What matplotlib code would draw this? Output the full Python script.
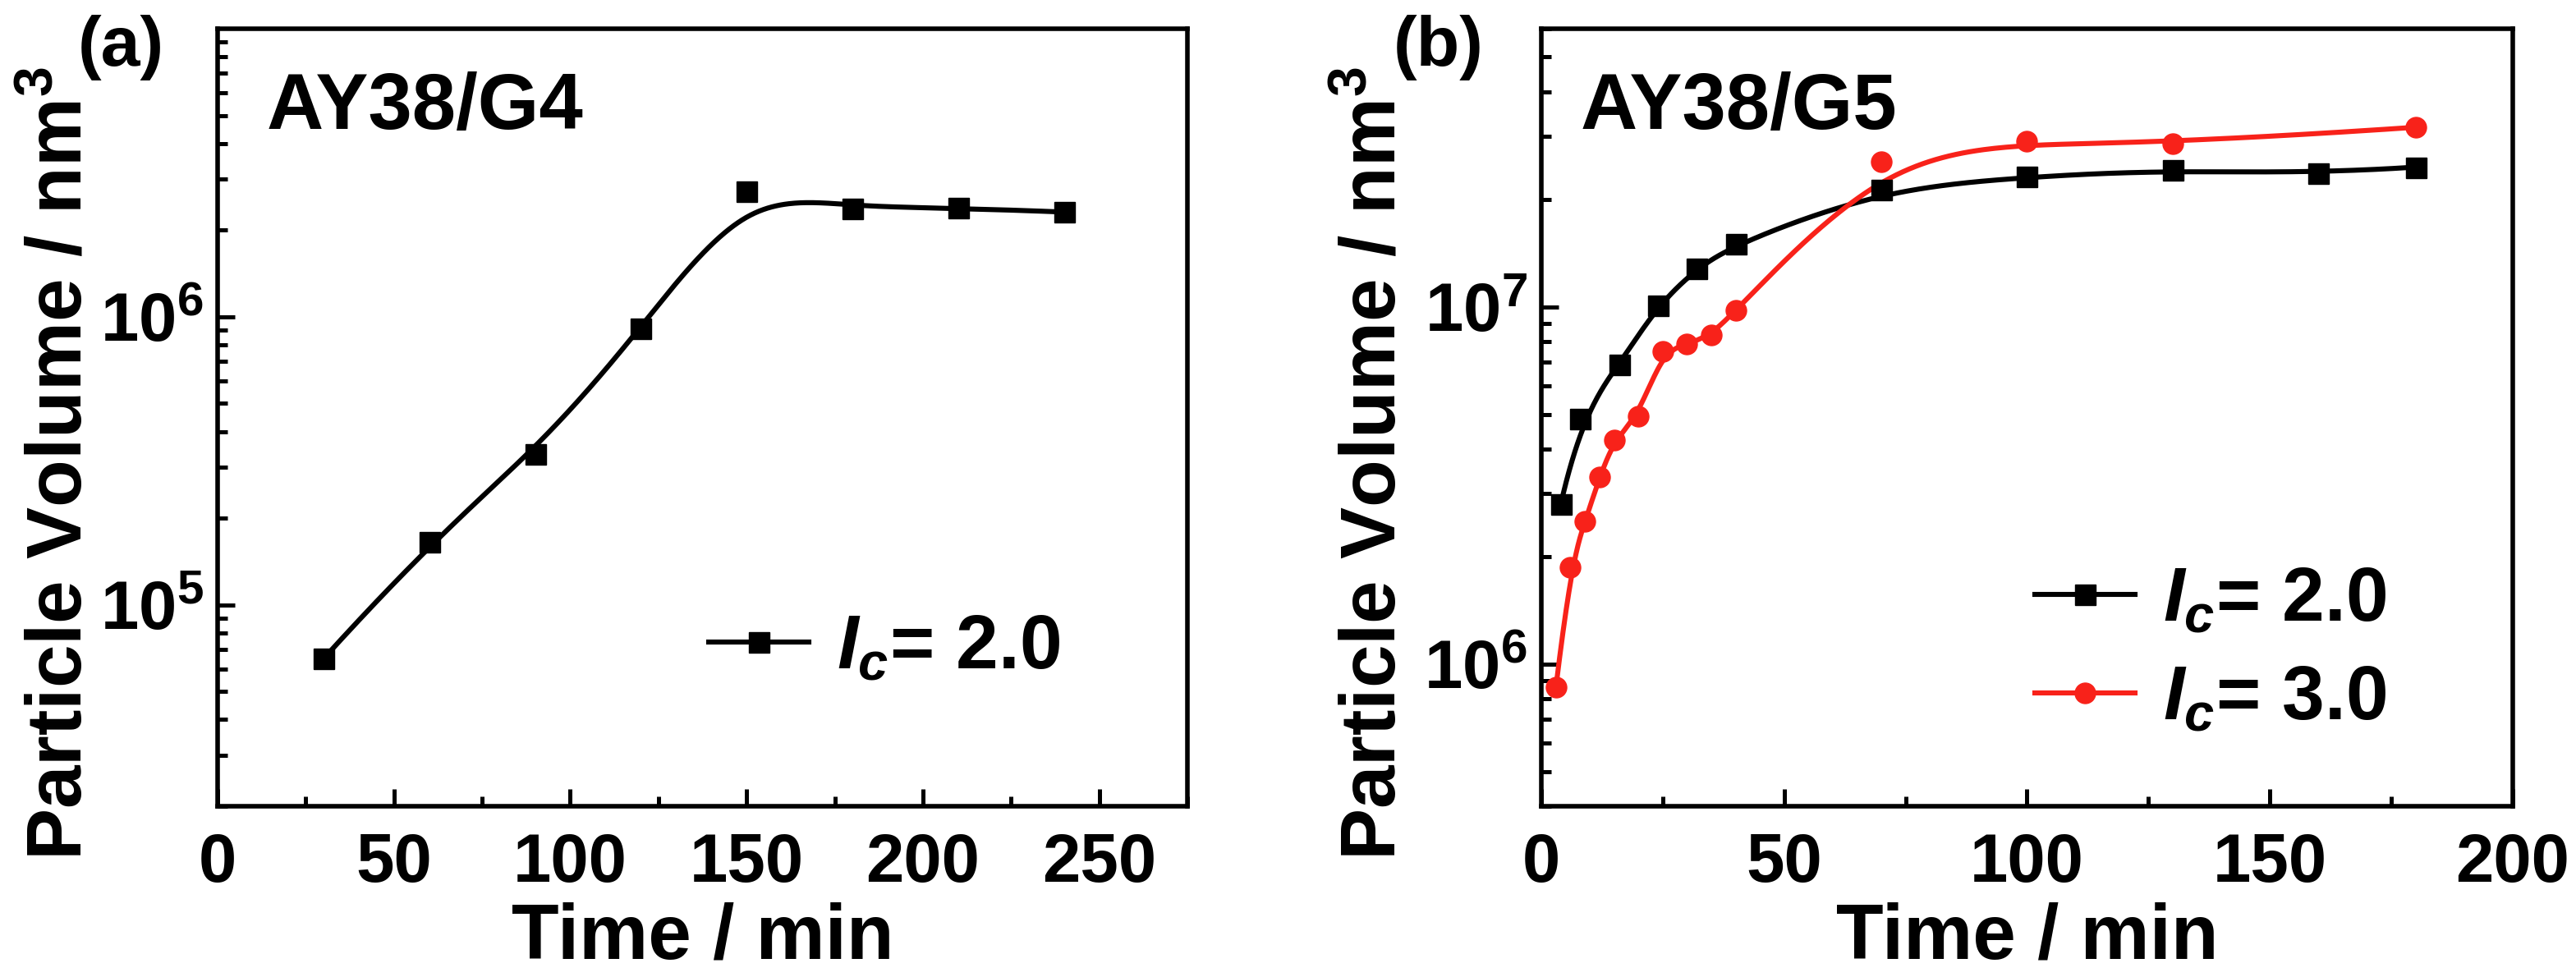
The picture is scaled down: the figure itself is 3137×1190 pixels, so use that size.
import numpy as np
import matplotlib
matplotlib.use("Agg")
import matplotlib.pyplot as plt
from matplotlib.ticker import FixedLocator, LogLocator, MultipleLocator, NullFormatter, FuncFormatter

plt.rcParams['font.family'] = 'Liberation Sans'
plt.rcParams['font.weight'] = 'bold'
plt.rcParams['mathtext.fontset'] = 'custom'
plt.rcParams['mathtext.rm'] = 'Liberation Sans:bold'
plt.rcParams['mathtext.bf'] = 'Liberation Sans:bold'
plt.rcParams['mathtext.it'] = 'Liberation Sans:italic:bold'

# panel (a): AY38/G4, Ic = 2.0
time_a = [30, 60, 90, 120, 150, 180, 210, 240]
vol_a = [6.5e4, 1.65e5, 3.35e5, 9.1e5, 2.72e6, 2.38e6, 2.39e6, 2.31e6]

# panel (b): AY38/G5
time_b2 = [4, 8, 16, 24, 32, 40, 70, 100, 130, 160, 180]
vol_b2 = [2.8e6, 4.85e6, 6.9e6, 1.01e7, 1.28e7, 1.5e7, 2.13e7, 2.31e7, 2.42e7, 2.36e7, 2.46e7]
time_b3 = [3, 6, 9, 12, 15, 20, 25, 30, 35, 40, 70, 100, 130, 180]
vol_b3 = [8.6e5, 1.87e6, 2.51e6, 3.33e6, 4.24e6, 4.95e6, 7.5e6, 7.85e6, 8.35e6, 9.75e6,
          2.55e7, 2.91e7, 2.86e7, 3.18e7]

RED = '#f8221a'
LW = 4.4
MS = 18


def bspline(xs, ys, num=500):
    # clamped cubic B-spline with the points as control points (log y), like Origin's B-spline line
    P = np.column_stack([np.asarray(xs, float), np.log10(ys)])
    n = len(P)
    k = 3
    knots = np.concatenate([np.zeros(k), np.arange(n - k + 1), np.full(k, n - k)]).astype(float)
    u = np.linspace(0, n - k, num)
    m = len(knots) - 1
    N = np.zeros((num, m))
    for i in range(m):
        N[:, i] = (knots[i] <= u) & (u < knots[i + 1])
    N[u >= knots[-1], n - 1] = 1.0
    for d in range(1, k + 1):
        Nn = np.zeros((num, m - d))
        for i in range(m - d):
            a = knots[i + d] - knots[i]
            b = knots[i + d + 1] - knots[i + 1]
            left = (u - knots[i]) / a * N[:, i] if a > 0 else 0.0
            right = (knots[i + d + 1] - u) / b * N[:, i + 1] if b > 0 else 0.0
            Nn[:, i] = left + right
        N = Nn
    C = N[:, :n] @ P
    return C[:, 0], 10 ** C[:, 1]


def sci(v, pos):
    e = int(round(np.log10(v)))
    return r'$\mathbf{10^{%d}}$' % e


def style(ax, xmax, ylim, majors):
    ax.set_yscale('log')
    ax.set_xlim(0, xmax)
    ax.set_ylim(*ylim)
    ax.xaxis.set_major_locator(MultipleLocator(50))
    ax.xaxis.set_minor_locator(MultipleLocator(25))
    ax.yaxis.set_major_locator(FixedLocator(majors))
    ax.yaxis.set_major_formatter(FuncFormatter(sci))
    ax.yaxis.set_minor_locator(LogLocator(base=10, subs=np.arange(2, 10), numticks=20))
    ax.yaxis.set_minor_formatter(NullFormatter())
    for s in ax.spines.values():
        s.set_linewidth(4.0)
    ax.tick_params(which='both', direction='in', top=False, right=False, width=3.6)
    ax.tick_params(which='major', length=15)
    ax.tick_params(which='minor', length=8.5)
    ax.tick_params(axis='x', which='major', labelsize=60, pad=22)
    ax.tick_params(axis='y', which='major', labelsize=60, pad=12)
    ax.set_xlabel('Time / min', fontsize=68, fontweight='bold')
    ax.set_ylabel('Particle Volume / nm$^\\mathbf{3}$', fontsize=68, fontweight='bold')
    ax.xaxis.label.set_va('baseline')
    ax.yaxis.label.set_va('baseline')
    ax.xaxis.set_label_coords(0.5, -0.196)


fig = plt.figure(figsize=(31.37, 11.9), dpi=100)
ax1 = fig.add_axes([0.08448, 0.17479, 0.37648, 0.79580])
ax2 = fig.add_axes([0.59834, 0.17479, 0.37711, 0.79580])

# (a)
cx, cy = bspline(time_a, vol_a)
ax1.plot(cx, cy, color='k', lw=LW, zorder=2)
ax1.plot(time_a, vol_a, ls='none', marker='s', ms=MS, color='k', zorder=3)
h1, = ax1.plot([], [], color='k', lw=LW, marker='s', ms=MS)
style(ax1, 275, (2e4, 1e7), [1e5, 1e6])
ax1.yaxis.set_label_coords(-0.140, 0.441)
ax1.text(0.0508, 0.871, 'AY38/G4', transform=ax1.transAxes, fontsize=69,
         fontweight='bold', ha='left', va='baseline')
ax1.legend([h1], [r'$I_c$= 2.0'], loc='center left', bbox_to_anchor=(0.506, 0.202),
           frameon=False, fontsize=67, handlelength=1.31, handletextpad=0.37,
           borderpad=0, borderaxespad=0)

# (b)
cx, cy = bspline(time_b2, vol_b2)
ax2.plot(cx, cy, color='k', lw=LW, zorder=2)
ax2.plot(time_b2, vol_b2, ls='none', marker='s', ms=MS, color='k', zorder=3)
cx, cy = bspline(time_b3, vol_b3)
ax2.plot(cx, cy, color=RED, lw=LW, zorder=2)
ax2.plot(time_b3, vol_b3, ls='none', marker='o', ms=MS, color=RED, zorder=3)
h2, = ax2.plot([], [], color='k', lw=LW, marker='s', ms=MS)
h3, = ax2.plot([], [], color=RED, lw=LW, marker='o', ms=MS)
style(ax2, 200, (4e5, 6e7), [1e6, 1e7])
ax2.yaxis.set_label_coords(-0.150, 0.441)
ax2.text(0.0406, 0.871, 'AY38/G5', transform=ax2.transAxes, fontsize=69,
         fontweight='bold', ha='left', va='baseline')
ax2.legend([h2, h3], [r'$I_c$= 2.0', r'$I_c$= 3.0'], loc='center left',
           bbox_to_anchor=(0.508, 0.200), frameon=False, fontsize=67,
           handlelength=1.31, handletextpad=0.37, labelspacing=0.36,
           borderpad=0, borderaxespad=0)

fig.text(0.0303, 0.9328, '(a)', fontsize=62, fontweight='bold', ha='left', va='baseline')
fig.text(0.5410, 0.9328, '(b)', fontsize=62, fontweight='bold', ha='left', va='baseline')

fig.savefig('out.png', dpi=100)
